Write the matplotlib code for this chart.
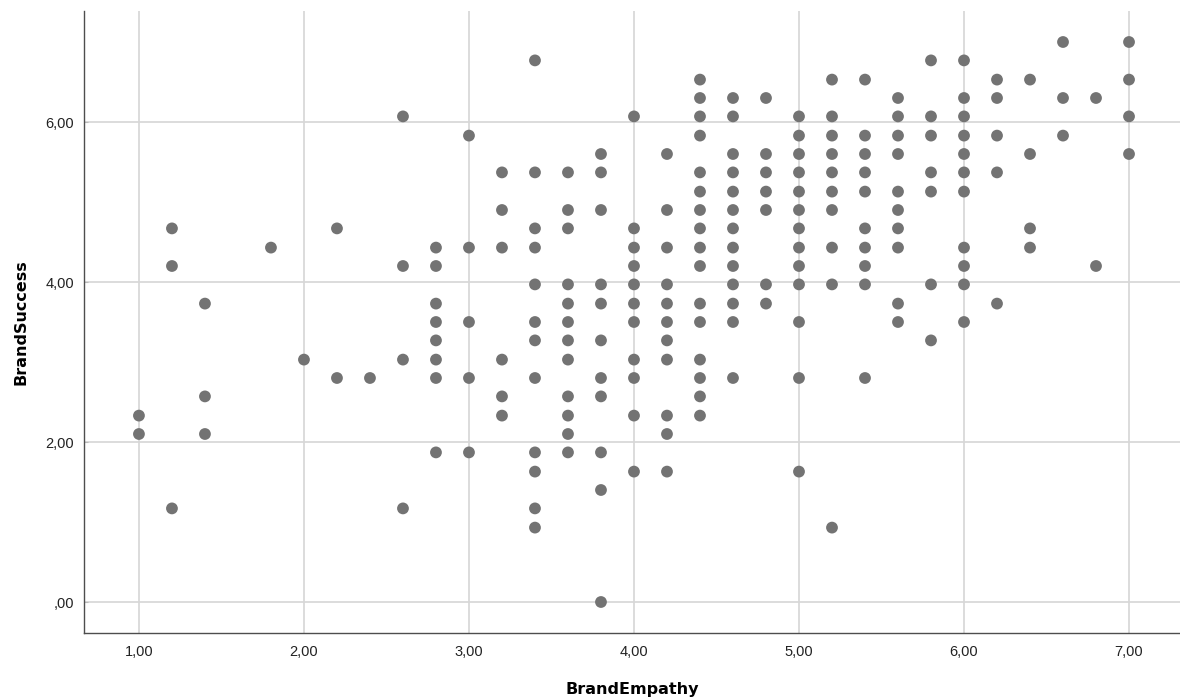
import matplotlib
matplotlib.use("Agg")
import matplotlib.pyplot as plt
import numpy as np
from matplotlib.ticker import FuncFormatter

# BrandEmpathy levels and the BrandSuccess values observed at each level
empathy_levels = [1.0, 1.2, 1.4, 1.8, 2.0, 2.2, 2.4, 2.6, 2.8, 3.0, 3.2, 3.4, 3.6,
                  3.8, 4.0, 4.2, 4.4, 4.6, 4.8, 5.0, 5.2, 5.4, 5.6, 5.8, 6.0,
                  6.2, 6.4, 6.6, 6.8, 7.0]

success_by_level = [
    [2.33, 2.10],
    [4.67, 4.20, 1.17],
    [3.73, 2.57, 2.10],
    [4.43],
    [3.03],
    [4.67, 2.80],
    [2.80],
    [6.07, 4.20, 3.03, 1.17],
    [4.43, 4.20, 3.73, 3.50, 3.27, 3.03, 2.80, 1.87],
    [5.83, 4.43, 3.50, 2.80, 1.87],
    [5.37, 4.90, 4.43, 3.03, 2.57, 2.33],
    [6.77, 5.37, 4.67, 4.43, 3.97, 3.50, 3.27, 2.80, 1.87, 1.63, 1.17, 0.93],
    [5.37, 4.90, 4.67, 3.97, 3.73, 3.50, 3.27, 3.03, 2.57, 2.33, 2.10, 1.87],
    [5.60, 5.37, 4.90, 3.97, 3.73, 3.27, 2.80, 2.57, 1.87, 1.40, 0.00],
    [6.07, 4.67, 4.43, 4.20, 3.97, 3.73, 3.50, 3.03, 2.80, 2.33, 1.63],
    [5.60, 4.90, 4.43, 3.97, 3.73, 3.50, 3.27, 3.03, 2.33, 2.10, 1.63],
    [6.53, 6.30, 6.07, 5.83, 5.37, 5.13, 4.90, 4.67, 4.43, 4.20, 3.73, 3.50,
     3.03, 2.80, 2.57, 2.33],
    [6.30, 6.07, 5.60, 5.37, 5.13, 4.90, 4.67, 4.43, 4.20, 3.97, 3.73, 3.50, 2.80],
    [6.30, 5.60, 5.37, 5.13, 4.90, 3.97, 3.73],
    [6.07, 5.83, 5.60, 5.37, 5.13, 4.90, 4.67, 4.43, 4.20, 3.97, 3.50, 2.80, 1.63],
    [6.53, 6.07, 5.83, 5.60, 5.37, 5.13, 4.90, 4.43, 3.97, 0.93],
    [6.53, 5.83, 5.60, 5.37, 5.13, 4.67, 4.43, 4.20, 3.97, 2.80],
    [6.30, 6.07, 5.83, 5.60, 5.13, 4.90, 4.67, 4.43, 3.73, 3.50],
    [6.77, 6.07, 5.83, 5.37, 5.13, 3.97, 3.27],
    [6.77, 6.30, 6.07, 5.83, 5.60, 5.37, 5.13, 4.43, 4.20, 3.97, 3.50],
    [6.53, 6.30, 5.83, 5.37, 3.73],
    [6.53, 5.60, 4.67, 4.43],
    [7.00, 6.30, 5.83],
    [6.30, 4.20],
    [7.00, 6.53, 6.07, 5.60],
]

x_ticks = [1, 2, 3, 4, 5, 6, 7]
y_ticks = [0, 2, 4, 6]

empathy = np.concatenate([[lv] * len(s) for lv, s in zip(empathy_levels, success_by_level)])
success = np.concatenate(success_by_level)


def spss_fmt(v, _):
    s = f"{v:.2f}".replace(".", ",")
    return s[1:] if s.startswith("0,") else s


fig = plt.figure(figsize=(11.8, 7), dpi=100)
ax = fig.add_axes([84 / 1180, 67 / 700, 1096 / 1180, 622 / 700])

ax.scatter(empathy, success, s=72, color="#737373", edgecolors="none", zorder=3)

ax.set_xlim(0.667, 7.309)
ax.set_ylim(-0.3875, 7.3875)
ax.set_xticks(x_ticks)
ax.set_yticks(y_ticks)
ax.xaxis.set_major_formatter(FuncFormatter(spss_fmt))
ax.yaxis.set_major_formatter(FuncFormatter(spss_fmt))

ax.grid(True, color="#d6d6d6", linewidth=1.2, zorder=0)
ax.set_axisbelow(True)
for side in ["top", "right"]:
    ax.spines[side].set_visible(False)
for side in ["left", "bottom"]:
    ax.spines[side].set_color("#4d4d4d")
    ax.spines[side].set_linewidth(1.0)

ax.tick_params(axis="x", length=0, pad=9, labelsize=10.5, labelcolor="#222222")
ax.tick_params(axis="y", direction="in", length=3, color="#bbbbbb", pad=7,
               labelsize=10.5, labelcolor="#222222")
for lbl in ax.get_xticklabels() + ax.get_yticklabels():
    lbl.set_fontfamily("Liberation Sans")

ax.set_xlabel("BrandEmpathy", fontsize=11.5, fontweight="bold", family="DejaVu Sans")
ax.set_ylabel("BrandSuccess", fontsize=11.5, fontweight="bold", family="DejaVu Sans")
ax.xaxis.set_label_coords(0.5, -0.079)
ax.yaxis.set_label_coords(-0.051, 0.5)

fig.savefig("out.png", dpi=100)
